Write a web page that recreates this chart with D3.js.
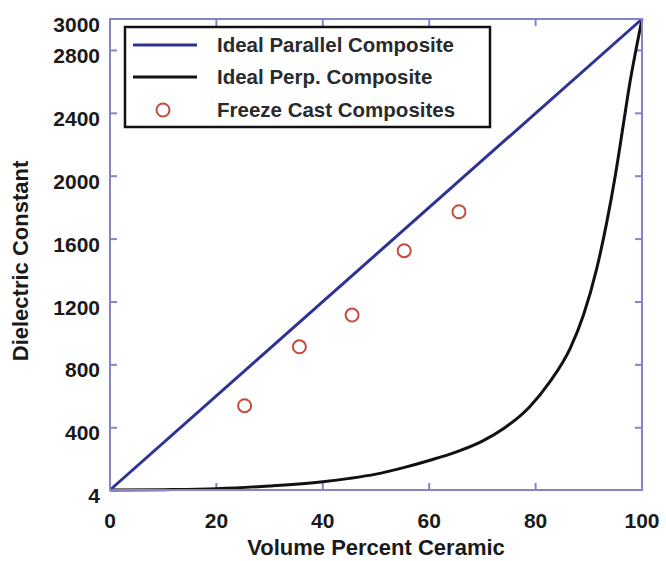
<!DOCTYPE html>
<html lang="en">
<head>
<meta charset="utf-8">
<title>Dielectric Constant vs Volume Percent Ceramic</title>
<style>
  body { margin: 0; background: #fff; }
  text { font-family: "Liberation Sans", Arial, sans-serif; font-weight: bold; fill: #1a1a1a; }
  .frame, .tick-line { stroke: #8584c4; }
</style>
</head>
<body>
<svg width="666" height="561"></svg>
<script src="https://d3js.org/d3.v7.min.js"></script>
<script>
// data
var parallelX = [0, 100];
var parallelY = [4, 3000];

var perpX = [0, 10, 20, 30, 40, 45, 50, 55, 60, 65, 70, 74, 78.9, 82.7, 86.5, 89, 91.5, 93.4, 95, 96.5, 97.7, 98.9, 100];
var perpY = [4, 6, 12, 30, 57, 78, 105, 145, 192, 245, 315, 395, 534, 693, 905, 1117, 1414, 1711, 2008, 2330, 2590, 2810, 3000];

var freezeX = [25.3, 35.6, 45.5, 55.3, 65.6];
var freezeY = [540, 915, 1117, 1526, 1774];

var xTicks = [0, 20, 40, 60, 80, 100];
var yTicks = [4, 400, 800, 1200, 1600, 2000, 2400, 2800, 3000];

var legendLabels = ["Ideal Parallel Composite", "Ideal Perp. Composite", "Freeze Cast Composites"];

var svg = d3.select("svg");
var plotLeft = 110, plotRight = 642, plotTop = 19, plotBottom = 490;

var x = d3.scaleLinear().domain([0, 100]).range([plotLeft, plotRight]);
var y = d3.scaleLinear().domain([4, 3000]).range([plotBottom, plotTop]);

// inward ticks on all four sides
var tickLen = 7;
var g = svg.append("g");
xTicks.slice(1, -1).forEach(function(t) {
  g.append("line").attr("class", "tick-line").attr("stroke-width", 2)
    .attr("x1", x(t)).attr("x2", x(t)).attr("y1", plotBottom).attr("y2", plotBottom - tickLen);
  g.append("line").attr("class", "tick-line").attr("stroke-width", 2)
    .attr("x1", x(t)).attr("x2", x(t)).attr("y1", plotTop).attr("y2", plotTop + tickLen);
});
yTicks.slice(1, -1).forEach(function(t) {
  g.append("line").attr("class", "tick-line").attr("stroke-width", 2)
    .attr("x1", plotLeft).attr("x2", plotLeft + tickLen).attr("y1", y(t)).attr("y2", y(t));
  g.append("line").attr("class", "tick-line").attr("stroke-width", 2)
    .attr("x1", plotRight).attr("x2", plotRight - tickLen).attr("y1", y(t)).attr("y2", y(t));
});

// tick labels
svg.append("g").selectAll("text").data(xTicks).enter().append("text")
  .attr("x", function(d) { return x(d); })
  .attr("y", 528)
  .attr("text-anchor", "middle")
  .style("font-size", "21px")
  .text(function(d) { return d; });

svg.append("g").selectAll("text").data(yTicks).enter().append("text")
  .attr("x", 100)
  .attr("y", function(d) { return y(d); })
  .attr("dy", "0.6em")
  .attr("text-anchor", "end")
  .style("font-size", "21px")
  .text(function(d) { return d; });

// axis titles
svg.append("text")
  .attr("x", (plotLeft + plotRight) / 2).attr("y", 555)
  .attr("text-anchor", "middle")
  .style("font-size", "22px")
  .text("Volume Percent Ceramic");

svg.append("text")
  .attr("transform", "translate(28,261) rotate(-90)")
  .attr("text-anchor", "middle")
  .style("font-size", "22px")
  .text("Dielectric Constant");

// series
var line = d3.line()
  .x(function(d) { return x(d[0]); })
  .y(function(d) { return y(d[1]); });

svg.append("path")
  .datum(d3.zip(perpX, perpY))
  .attr("fill", "none").attr("stroke", "#111").attr("stroke-width", 3)
  .attr("d", line.curve(d3.curveMonotoneX));

svg.append("path")
  .datum(d3.zip(parallelX, parallelY))
  .attr("fill", "none").attr("stroke", "#2e3393").attr("stroke-width", 3)
  .attr("d", line.curve(d3.curveLinear));

svg.append("g").selectAll("circle").data(d3.zip(freezeX, freezeY)).enter().append("circle")
  .attr("cx", function(d) { return x(d[0]); })
  .attr("cy", function(d) { return y(d[1]); })
  .attr("r", 6.5)
  .attr("fill", "none").attr("stroke", "#c44a40").attr("stroke-width", 2);

// plot frame
svg.append("rect").attr("class", "frame")
  .attr("x", plotLeft).attr("y", plotTop)
  .attr("width", plotRight - plotLeft).attr("height", plotBottom - plotTop)
  .attr("fill", "none").attr("stroke-width", 2);

// legend
var legend = svg.append("g");
legend.append("rect")
  .attr("x", 125).attr("y", 27).attr("width", 365).attr("height", 100)
  .attr("fill", "#fff").attr("stroke", "#111").attr("stroke-width", 2.5);

var rowY = [45, 77, 110];
legend.append("line").attr("x1", 133).attr("x2", 197).attr("y1", rowY[0]).attr("y2", rowY[0])
  .attr("stroke", "#2e3393").attr("stroke-width", 3);
legend.append("line").attr("x1", 133).attr("x2", 197).attr("y1", rowY[1]).attr("y2", rowY[1])
  .attr("stroke", "#111").attr("stroke-width", 3);
legend.append("circle").attr("cx", 163).attr("cy", rowY[2]).attr("r", 6.5)
  .attr("fill", "none").attr("stroke", "#c44a40").attr("stroke-width", 2);

legend.selectAll("text.lab").data(legendLabels).enter().append("text")
  .attr("class", "lab")
  .attr("x", 217)
  .attr("y", function(d, i) { return rowY[i]; })
  .attr("dy", "0.36em")
  .style("font-size", "20.5px")
  .style("fill", "#2a2a2a")
  .text(function(d) { return d; });
</script>
</body>
</html>
